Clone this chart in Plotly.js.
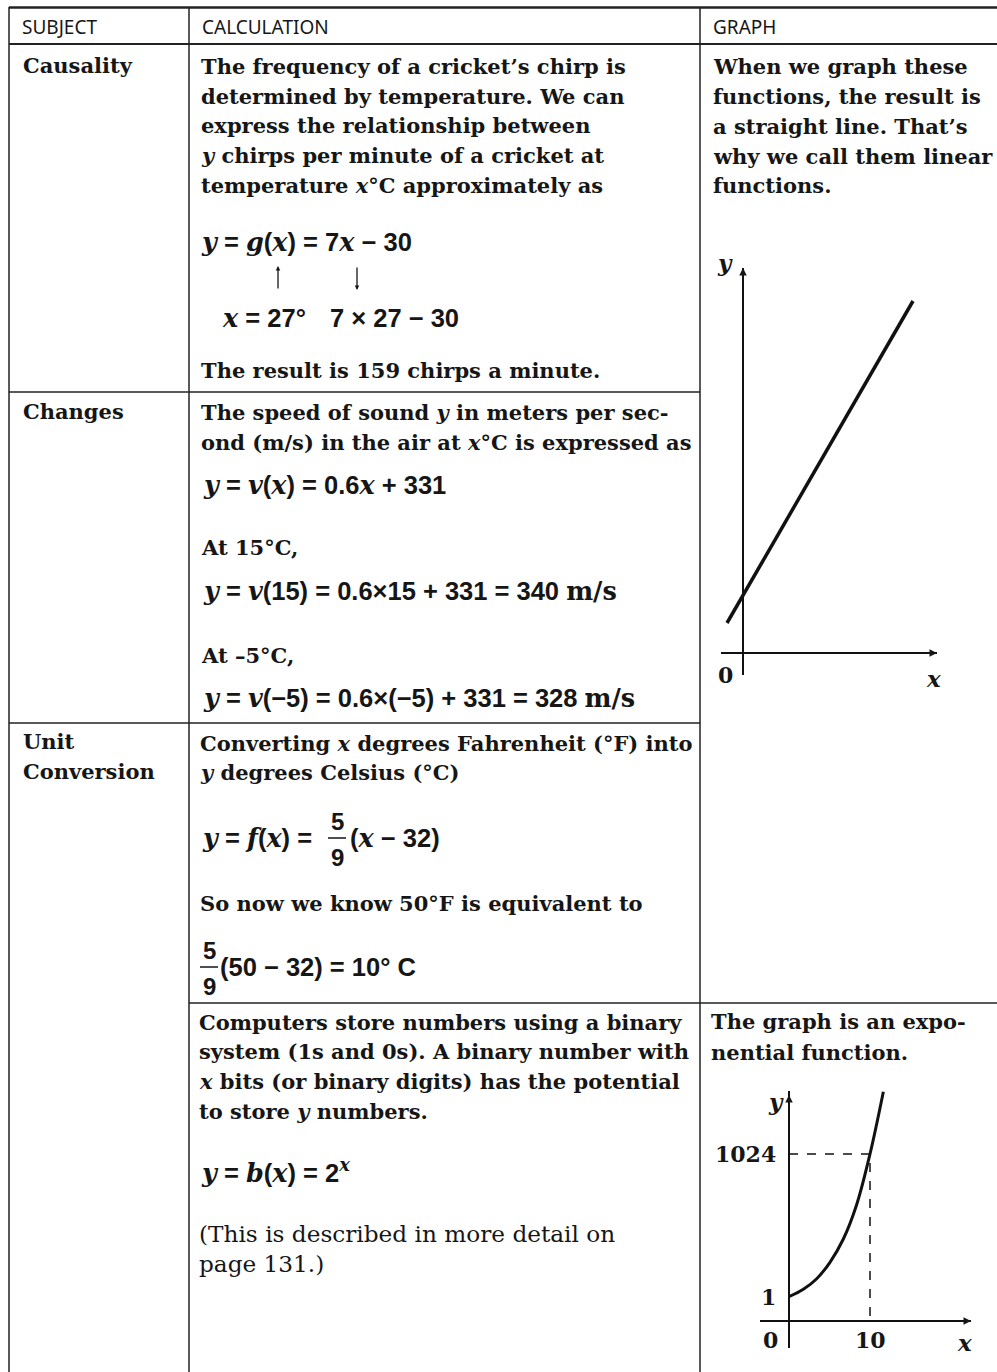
<!DOCTYPE html>
<html>
<head>
<meta charset="utf-8">
<script src="https://cdn.plot.ly/plotly-3.0.1.min.js"></script>
<style>
  html, body { margin: 0; padding: 0; background: #fff; }
  #page { width: 997px; height: 1372px; }
</style>
</head>
<body>
<div id="page"></div>
<script>
// page size in px, everything below is placed in these units
const W = 997, H = 1372;

// --- graph data ---
// linear sketch: y = a x + b, drawn on a plain grid where 1 unit ~ 20px
const linX = [-0.8, 8.5];
const linY = [1.5, 17.6];

// exponential sketch: x in bits, y in sketch units (not to scale, like the original)
const expX = [0, 1.77, 3.42, 5.06, 6.71, 8.35, 10.0, 11.65];
const expY = [2.43, 3.17, 4.23, 5.87, 8.2, 11.63, 16.7, 22.93];
// dashed guide to the point (10, 1024)
const guideX = [0, 10, 10];
const guideY = [16.7, 16.7, 0];
// tick labels on the exponential sketch
const expXTicks = [0, 10];
const expXTickText = ['0', '10'];
const expYTicks = [2.43, 16.7];
const expYTickText = ['1', '1024'];

// --- table text ---
const headers = ['SUBJECT', 'CALCULATION', 'GRAPH'];
const subjects = [['Causality'], ['Changes'], ['Unit', 'Conversion']];

const BODY = 'DejaVu Serif';
const MATH = 'Liberation Sans';
const INK = '#161616';
const BSIZE = 21;
const MSIZE = 25.5;

const v = s => `<span style="font-family:'DejaVu Serif';font-style:italic">${s}</span>`;

function px(x) { return x / W; }
function py(y) { return 1 - y / H; }

function txt(x, y, s, o) {
    let a = {
        xref: 'paper', yref: 'paper', x: px(x), y: py(y),
        text: s, showarrow: false, xanchor: 'left', yanchor: 'middle',
        font: { family: BODY, size: BSIZE, color: INK, weight: 'bold' },
    };
    return Object.assign(a, o || {});
}
function mth(x, y, s, size, anchor) {
    return txt(x, y, '<b>' + s + '</b>', { xanchor: anchor || 'left',
        font: { family: MATH, size: size || MSIZE, color: INK } });
}
function line(x0, y0, x1, y1, w) {
    return {
        type: 'line', xref: 'paper', yref: 'paper',
        x0: px(x0), y0: py(y0), x1: px(x1), y1: py(y1),
        line: { color: '#222', width: w || 1.5 },
    };
}
const headFont = { family: 'Noto Sans', size: 19, color: INK };

let annotations = [];

// header row
annotations.push(txt(20, 27, headers[0], { font: headFont }));
annotations.push(txt(200, 27, headers[1], { font: headFont }));
annotations.push(txt(711, 27, headers[2], { font: headFont }));

// subject column
annotations.push(txt(21, 65, subjects[0][0]));
annotations.push(txt(21, 411, subjects[1][0]));
annotations.push(txt(21, 741, subjects[2][0]));
annotations.push(txt(21, 771, subjects[2][1]));

// row 1: causality
const row1 = [
    'The frequency of a cricket\u2019s chirp is',
    'determined by temperature. We can',
    'express the relationship between',
    '<i>y</i> chirps per minute of a cricket at',
    'temperature <i>x</i>°C approximately as',
];
row1.forEach((s, i) => annotations.push(txt(199, 67 + i * 29.5, s)));
annotations.push(mth(199, 242, `${v('y')} = ${v('g')}(${v('x')}) = 7${v('x')} \u2212 30`));
annotations.push(mth(220, 318, `${v('x')} = 27°`));
annotations.push(mth(328, 318, '7 × 27 \u2212 30'));
annotations.push(txt(199, 370, 'The result is 159 chirps a minute.'));
// the little arrows under the formula
annotations.push({ xref: 'paper', yref: 'paper', x: px(278), y: py(266), ax: 0, ay: 24,
    text: '', showarrow: true, arrowhead: 2, arrowsize: 0.7, arrowwidth: 1.3, arrowcolor: INK });
annotations.push({ xref: 'paper', yref: 'paper', x: px(357), y: py(290), ax: 0, ay: -24,
    text: '', showarrow: true, arrowhead: 2, arrowsize: 0.7, arrowwidth: 1.3, arrowcolor: INK });

// graph column text
const graphText = [
    'When we graph these',
    'functions, the result is',
    'a straight line. That\u2019s',
    'why we call them linear',
    'functions.',
];
graphText.forEach((s, i) => annotations.push(txt(711, 67 + i * 29.7, s)));

// row 2: changes
annotations.push(txt(199, 413, 'The speed of sound <i>y</i> in meters per sec-'));
annotations.push(txt(199, 442, 'ond (m/s) in the air at <i>x</i>°C is expressed as'));
annotations.push(mth(201, 485, `${v('y')} = ${v('v')}(${v('x')}) = 0.6${v('x')} + 331`));
annotations.push(txt(199, 548, 'At 15°C,'));
annotations.push(mth(201, 591, `${v('y')} = ${v('v')}(15) = 0.6×15 + 331 = 340 <span style="font-family:'DejaVu Serif'">m/s</span>`));
annotations.push(txt(199, 655, 'At \u20135°C,'));
annotations.push(mth(201, 698, `${v('y')} = ${v('v')}(\u22125) = 0.6×(\u22125) + 331 = 328 <span style="font-family:'DejaVu Serif'">m/s</span>`));

// row 3: unit conversion
annotations.push(txt(198, 743, 'Converting <i>x</i> degrees Fahrenheit (°F) into'));
annotations.push(txt(198, 772, '<i>y</i> degrees Celsius (°C)'));
annotations.push(mth(200, 838, `${v('y')} = ${v('f')}(${v('x')}) =`));
annotations.push(mth(337, 821, '5', 24, 'center'));
annotations.push(mth(337, 857, '9', 24, 'center'));
annotations.push(mth(348, 838, `(${v('x')} \u2212 32)`));
annotations.push(txt(198, 903, 'So now we know 50°F is equivalent to'));
annotations.push(mth(209, 950, '5', 24, 'center'));
annotations.push(mth(209, 986, '9', 24, 'center'));
annotations.push(mth(218, 967, '(50 \u2212 32) = 10° C'));

// row 4: binary numbers
const row4 = [
    'Computers store numbers using a binary',
    'system (1s and 0s). A binary number with',
    '<i>x</i> bits (or binary digits) has the potential',
    'to store <i>y</i> numbers.',
];
row4.forEach((s, i) => annotations.push(txt(197, 1022 + i * 29.7, s)));
annotations.push(mth(199, 1171, `${v('y')} = ${v('b')}(${v('x')}) = 2<sup>${v('x')}</sup>`));
const noteFont = { family: BODY, size: 23.2, color: INK };
annotations.push(txt(197, 1233, '(This is described in more detail on', { font: noteFont }));
annotations.push(txt(197, 1263, 'page 131.)', { font: noteFont }));
annotations.push(txt(709, 1021, 'The graph is an expo-'));
annotations.push(txt(709, 1052, 'nential function.'));

// labels on the linear sketch
const varFont = { family: 'DejaVu Serif', size: 23, color: INK };
const numFont = { family: BODY, size: 22, color: INK };
annotations.push(txt(725, 262, '<b><i>y</i></b>', { xanchor: 'center', font: varFont }));
annotations.push(txt(725, 675, '<b>0</b>', { xanchor: 'center', font: numFont }));
annotations.push(txt(933, 678, '<b><i>x</i></b>', { xanchor: 'center', font: varFont }));
// axis heads on the linear sketch
annotations.push({ xref: 'x', yref: 'y', axref: 'x', ayref: 'y', x: 9.7, y: 0, ax: 9.0, ay: 0,
    text: '', showarrow: true, arrowhead: 2, arrowsize: 1, arrowwidth: 1.5, arrowcolor: INK });
annotations.push({ xref: 'x', yref: 'y', axref: 'x', ayref: 'y', x: 0, y: 19.25, ax: 0, ay: 18.5,
    text: '', showarrow: true, arrowhead: 2, arrowsize: 1, arrowwidth: 1.5, arrowcolor: INK });

// labels on the exponential sketch
expXTicks.forEach((t, i) => annotations.push({ xref: 'x2', yref: 'y2', x: t === 0 ? -2.3 : t, y: -1.9,
    text: '<b>' + expXTickText[i] + '</b>', showarrow: false, xanchor: 'center', yanchor: 'middle',
    font: numFont }));
expYTicks.forEach((t, i) => annotations.push({ xref: 'x2', yref: 'y2', x: -1.3, y: t,
    text: '<b>' + expYTickText[i] + '</b>', showarrow: false, xanchor: 'right', yanchor: 'middle',
    font: numFont }));
annotations.push({ xref: 'x2', yref: 'y2', x: -1.6, y: 22.0, text: '<b><i>y</i></b>', showarrow: false,
    xanchor: 'center', yanchor: 'middle', font: varFont });
annotations.push({ xref: 'x2', yref: 'y2', x: 21.7, y: -2.1, text: '<b><i>x</i></b>', showarrow: false,
    xanchor: 'center', yanchor: 'middle', font: varFont });
annotations.push({ xref: 'x2', yref: 'y2', axref: 'x2', ayref: 'y2', x: 22.47, y: 0, ax: 21.0, ay: 0,
    text: '', showarrow: true, arrowhead: 2, arrowsize: 1, arrowwidth: 1.5, arrowcolor: INK });
annotations.push({ xref: 'x2', yref: 'y2', axref: 'x2', ayref: 'y2', x: 0, y: 22.6, ax: 0, ay: 21.0,
    text: '', showarrow: true, arrowhead: 2, arrowsize: 1, arrowwidth: 1.5, arrowcolor: INK });

// table rules
const shapes = [
    line(9, 7.5, 997, 7.5, 2.5),
    line(9, 44, 997, 44, 2),
    line(9, 7, 9, 1372),
    line(189, 7, 189, 1372),
    line(700, 7, 700, 1372),
    line(9, 392, 700, 392),
    line(9, 723, 700, 723),
    line(189, 1003, 997, 1003),
    // fraction bars
    line(328, 838, 346, 838, 1.6),
    line(200, 967, 218, 967, 1.6),
];

const data = [
    { x: linX, y: linY, xaxis: 'x', yaxis: 'y', mode: 'lines',
      line: { color: '#111', width: 3.5 }, hoverinfo: 'skip' },
    { x: guideX, y: guideY, xaxis: 'x2', yaxis: 'y2', mode: 'lines',
      line: { color: '#111', width: 1.5, dash: 'dash' }, hoverinfo: 'skip' },
    { x: expX, y: expY, xaxis: 'x2', yaxis: 'y2', mode: 'lines',
      line: { color: '#111', width: 3, shape: 'spline' }, hoverinfo: 'skip' },
];

const sketchAxis = {
    showgrid: false, showticklabels: false, ticks: '', showline: false,
    zeroline: true, zerolinecolor: '#111', zerolinewidth: 1.5, fixedrange: true,
};

const layout = {
    width: W, height: H,
    margin: { l: 0, r: 0, t: 0, b: 0, pad: 0 },
    paper_bgcolor: '#fff', plot_bgcolor: 'rgba(0,0,0,0)',
    showlegend: false,
    xaxis: Object.assign({}, sketchAxis, { domain: [px(721), px(937)], range: [-1.1, 9.7], anchor: 'y' }),
    yaxis: Object.assign({}, sketchAxis, { domain: [py(675), py(268)], range: [-1.1, 19.25], anchor: 'x' }),
    xaxis2: Object.assign({}, sketchAxis, { domain: [px(760), px(971)], range: [-3.58, 22.47], anchor: 'y2' }),
    yaxis2: Object.assign({}, sketchAxis, { domain: [py(1348), py(1091)], range: [-2.7, 23.0], anchor: 'x2' }),
    annotations: annotations,
    shapes: shapes,
};

Plotly.newPlot('page', data, layout, { staticPlot: true });
</script>
</body>
</html>
